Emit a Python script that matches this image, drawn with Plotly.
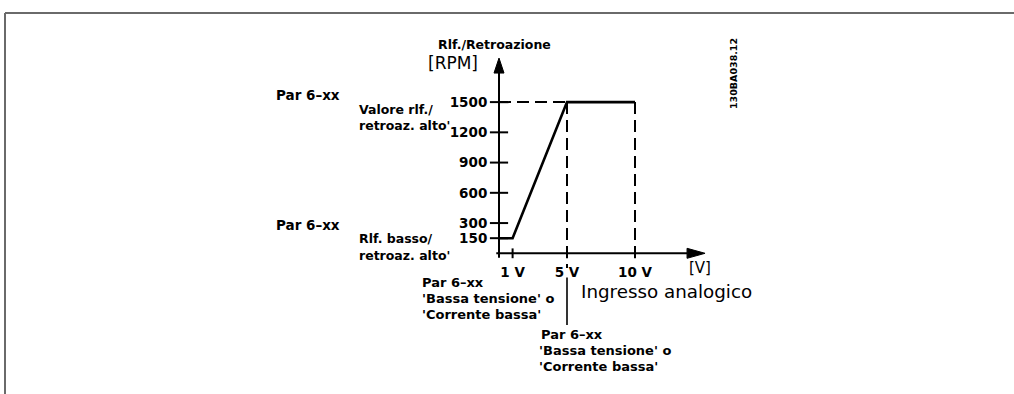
import plotly.graph_objects as go

# Scaling curve: analog input voltage [V] -> speed reference [RPM]
volt_points = [0, 1, 5, 10]
rpm_points = [150, 150, 1500, 1500]

# Axis ticks and their labels
rpm_ticks = [150, 300, 600, 900, 1200, 1500]
rpm_tick_labels = ["150", "300", "600", "900", "1200", "1500"]
volt_ticks = [1, 5, 10]
volt_tick_labels = ["1 V", "5 V", "10 V"]

# Canvas geometry (pixels) and scale of the drawing
W, H = 1014, 394
ORIGIN_X, ORIGIN_Y = 499, 253.3
PX_PER_V = 13.6
PX_PER_RPM = 0.1008
X_AXIS_END = 15.15      # V, tip of the horizontal arrow
Y_AXIS_END = 1937       # RPM, tip of the vertical arrow

x_range = [-ORIGIN_X / PX_PER_V, (W - ORIGIN_X) / PX_PER_V]
y_range = [-(H - ORIGIN_Y) / PX_PER_RPM, ORIGIN_Y / PX_PER_RPM]

FONT = "DejaVu Sans"
BLACK = "black"

high_v = volt_points[2]
max_v = volt_points[3]
high_rpm = rpm_points[2]

fig = go.Figure()

common = dict(showlegend=False, hoverinfo="skip")

# Axis lines
fig.add_trace(go.Scatter(x=[0, 0], y=[-45, Y_AXIS_END - 15 / PX_PER_RPM], mode="lines",
                         line=dict(color=BLACK, width=2), **common))
fig.add_trace(go.Scatter(x=[-0.2, X_AXIS_END - 18 / PX_PER_V], y=[0, 0], mode="lines",
                         line=dict(color=BLACK, width=2), **common))

# Dashed guides to the high reference point and the maximum input
fig.add_trace(go.Scatter(x=[0, high_v], y=[high_rpm, high_rpm], mode="lines",
                         line=dict(color=BLACK, width=2, dash="12px,6px"), **common))
fig.add_trace(go.Scatter(x=[high_v, high_v], y=[high_rpm, -145], mode="lines",
                         line=dict(color=BLACK, width=2, dash="12px,6px"), **common))
fig.add_trace(go.Scatter(x=[max_v, max_v], y=[high_rpm, 0], mode="lines",
                         line=dict(color=BLACK, width=2, dash="12px,6px"), **common))
# Solid leader down to the lower note
fig.add_trace(go.Scatter(x=[high_v, high_v], y=[-240, -711], mode="lines",
                         line=dict(color=BLACK, width=1.6), **common))

# Scaling curve
fig.add_trace(go.Scatter(x=volt_points, y=rpm_points, mode="lines",
                         line=dict(color=BLACK, width=2.6), **common))

# Tick marks crossing the axes
fig.add_trace(go.Scatter(x=[0] * len(rpm_ticks), y=rpm_ticks, mode="markers",
                         marker=dict(symbol="line-ew", size=13,
                                     line=dict(color=BLACK, width=2)), **common))
fig.add_trace(go.Scatter(x=volt_ticks, y=[0] * len(volt_ticks), mode="markers",
                         marker=dict(symbol="line-ns", size=7,
                                     line=dict(color=BLACK, width=2)), **common))

# Arrow heads
fig.add_shape(type="path", xref="x", yref="y", xsizemode="pixel", ysizemode="pixel",
              xanchor=0, yanchor=Y_AXIS_END, path="M0,0 L-5,-15 L5,-15 Z",
              fillcolor=BLACK, line=dict(color=BLACK, width=1))
fig.add_shape(type="path", xref="x", yref="y", xsizemode="pixel", ysizemode="pixel",
              xanchor=X_AXIS_END, yanchor=0, path="M0,0 L-18,5 L-18,-5 Z",
              fillcolor=BLACK, line=dict(color=BLACK, width=1))

# Frame (top and left border)
for x0, y0, x1, y1 in [(5, 13, W, 13), (5, 13, 5, H)]:
    fig.add_shape(type="line", xref="paper", yref="paper",
                  x0=x0 / W, y0=1 - y0 / H, x1=x1 / W, y1=1 - y1 / H,
                  line=dict(color="#6a6a6a", width=2))


def label(text, x, y, size=13, bold=True, angle=0, xanchor="left"):
    fig.add_annotation(text=text, x=x / W, y=1 - y / H, xref="paper", yref="paper",
                       xanchor=xanchor, yanchor="middle", showarrow=False,
                       textangle=angle, borderpad=0,
                       font=dict(family=FONT, size=size, color=BLACK,
                                 weight="bold" if bold else "normal"))


label("Rlf./Retroazione", 437, 45, size=12.5)
label("[RPM]", 427, 63, size=17, bold=False)
label("Par 6–xx", 275, 95, size=13.5)
label("Valore rlf./", 358, 109, size=12.5)
label("retroaz. alto'", 358, 126, size=12.5)
label("Par 6–xx", 275, 225, size=13.5)
label("Rlf. basso/", 358, 238, size=12.5)
label("retroaz. alto'", 358, 255, size=12.5)
label("[V]", 688, 268, size=15, bold=False)
label("Ingresso analogico", 580, 291, size=18.3, bold=False)
label("Par 6–xx", 421, 282)
label("'Bassa tensione' o", 421, 298)
label("'Corrente bassa'", 421, 314)
label("Par 6–xx", 540, 334)
label("'Bassa tensione' o", 538, 350)
label("'Corrente bassa'", 538, 366)
label("130BA038.12", 733, 74, size=9.5, angle=-90, xanchor="center")

tick_font = dict(family=FONT, size=13.5, color=BLACK, weight="bold")

fig.update_layout(
    width=W, height=H,
    margin=dict(l=0, r=0, t=0, b=0),
    paper_bgcolor="white", plot_bgcolor="white",
    xaxis=dict(range=x_range, showgrid=False, zeroline=False, showline=False,
               tickvals=volt_ticks, ticktext=volt_tick_labels,
               ticks="outside", ticklen=6, tickcolor="rgba(0,0,0,0)",
               anchor="free", position=1 - ORIGIN_Y / H, tickfont=tick_font,
               fixedrange=True),
    yaxis=dict(range=y_range, showgrid=False, zeroline=False, showline=False,
               tickvals=rpm_ticks, ticktext=rpm_tick_labels,
               ticks="outside", ticklen=9, tickcolor="rgba(0,0,0,0)",
               anchor="free", position=ORIGIN_X / W, tickfont=tick_font,
               fixedrange=True),
)

fig.write_html("out.html")
